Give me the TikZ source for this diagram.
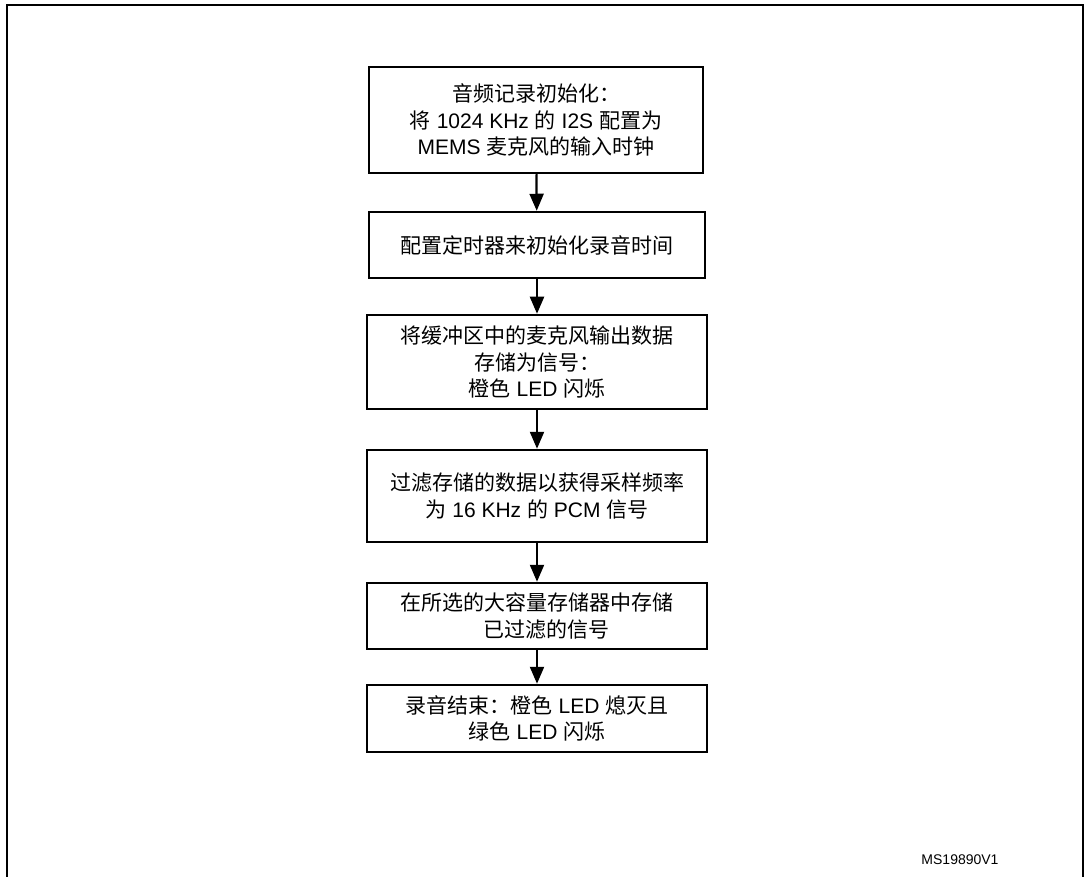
\documentclass[tikz,border=0pt]{standalone}
\usepackage{fontspec}
\setmainfont{Liberation Sans}
\newfontfamily\cjk{Noto Sans CJK SC}
\usetikzlibrary{arrows.meta}
\newcommand\zh[1]{{\cjk #1}}
\tikzset{
  stepbox/.style={draw, line width=2.5pt, minimum width=340pt, inner sep=0pt, align=center,
    font=\fontsize{21}{26.5}\selectfont},
  flow/.style={line width=2.2pt, -{Triangle[width=14pt,length=17pt]}},
}
\begin{document}
\begin{tikzpicture}[x=1pt,y=-1pt]
\path[use as bounding box] (0,0) rectangle (1084,877);
\begin{scope}
\clip (0,0) rectangle (1084,877);
\draw[line width=2pt] (7,890) -- (7,5) -- (1083,5) -- (1083,890);
\end{scope}

\node[stepbox, minimum width=334pt, minimum height=106pt] (b1) at (536,120)
  {\zh{音频记录初始化：}\\\zh{将} 1024 KHz \zh{的} I2S \zh{配置为}\\MEMS \zh{麦克风的输入时钟}};
\node[stepbox, minimum width=336pt, minimum height=66pt] (b2) at (537,245)
  {\zh{配置定时器来初始化录音时间}};
\node[stepbox, minimum height=94pt] (b3) at (537,362)
  {\zh{将缓冲区中的麦克风输出数据}\hspace{24pt}\\\zh{存储为信号：}\\\zh{橙色} LED \zh{闪烁}};
\node[stepbox, minimum height=92pt] (b4) at (537,496)
  {\zh{过滤存储的数据以获得采样频率}\\\zh{为} 16 KHz \zh{的} PCM \zh{信号}};
\node[stepbox, minimum height=66pt] (b5) at (537,616)
  {\zh{在所选的大容量存储器中存储}\hspace{24pt}\\\hspace{18pt}\zh{已过滤的信号}};
\node[stepbox, minimum height=67pt] (b6) at (537,718.5)
  {\zh{录音结束：橙色} LED \zh{熄灭且}\\\zh{绿色} LED \zh{闪烁}\hspace{12pt}};

\node[font=\fontsize{14}{16}\selectfont] (id) at (960,860) {MS19890V1};

\draw[flow] (b1) -- (b2);
\draw[flow] (b2) -- (b3);
\draw[flow] (b3) -- (b4);
\draw[flow] (b4) -- (b5);
\draw[flow] (b5) -- (b6);
\end{tikzpicture}
\end{document}
